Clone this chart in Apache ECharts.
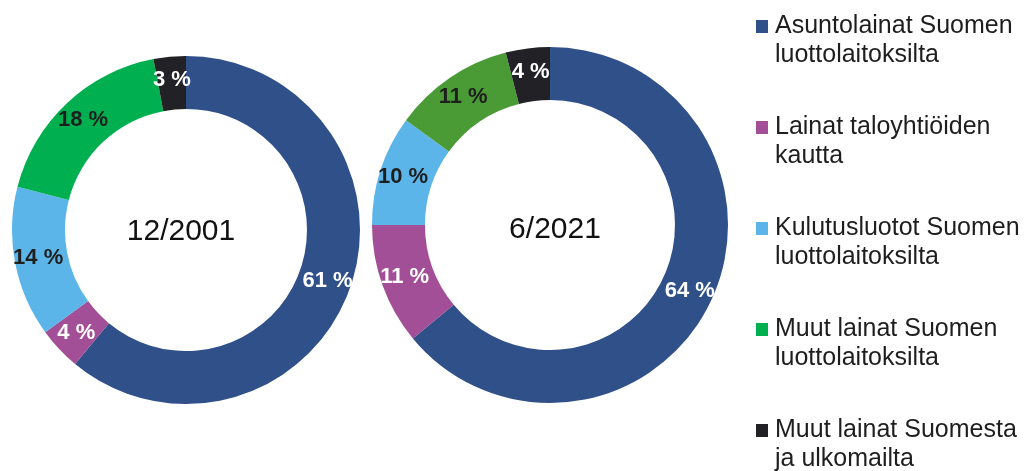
<!DOCTYPE html>
<html>
<head>
<meta charset="utf-8">
<script src="https://cdn.jsdelivr.net/npm/echarts@6/dist/echarts.min.js"></script>
<style>
  html, body { margin: 0; padding: 0; background: #fff; }
  #main { width: 1026px; height: 471px; }
</style>
</head>
<body>
<div id="main"></div>
<script>
  // categories (legend order = slice order, clockwise from 12 o'clock)
  const categories = [
    'Asuntolainat Suomen luottolaitoksilta',
    'Lainat taloyhtiöiden kautta',
    'Kulutusluotot Suomen luottolaitoksilta',
    'Muut lainat Suomen luottolaitoksilta',
    'Muut lainat Suomesta ja ulkomailta',
  ];
  // legend text split on two rows
  const legendLabels = [
    'Asuntolainat Suomen\nluottolaitoksilta',
    'Lainat taloyhtiöiden\nkautta',
    'Kulutusluotot Suomen\nluottolaitoksilta',
    'Muut lainat Suomen\nluottolaitoksilta',
    'Muut lainat Suomesta\nja ulkomailta',
  ];
  const periods = ['12/2001', '6/2021'];
  const values2001 = [61, 4, 14, 18, 3];
  const values2021 = [64, 11, 10, 11, 4];

  const colors2001 = ['#2f5089', '#a34f97', '#5cb5e9', '#00b050', '#222226'];
  const colors2021 = ['#2f5089', '#a34f97', '#5cb5e9', '#4a9b36', '#222226'];
  const labelColors = ['#ffffff', '#ffffff', '#1e1e1e', '#1e1e1e', '#ffffff'];

  const font = '"Liberation Sans", Arial, sans-serif';

  function makeData(values, colors) {
    return values.map((v, i) => {
      return {
        name: categories[i],
        value: v,
        itemStyle: { color: colors[i] },
        label: { color: labelColors[i] },
      };
    });
  }

  function makePie(values, colors, center, radius) {
    return {
      type: 'pie',
      center,
      radius,
      startAngle: 90,
      clockwise: true,
      avoidLabelOverlap: false,
      silent: true,
      label: {
        show: true,
        position: 'inside',
        formatter: '{c} %',
        fontFamily: font,
        fontWeight: 'bold',
        fontSize: 22,
      },
      labelLine: { show: false },
      itemStyle: { borderWidth: 0 },
      data: makeData(values, colors),
    };
  }

  const myChart = echarts.init(document.getElementById('main'));
  const lh = 29;

  myChart.setOption({
    animation: false,
    backgroundColor: '#ffffff',
    legend: {
      orient: 'vertical',
      left: 756,
      top: -17,
      height: 560,
      padding: 0,
      itemWidth: 12,
      itemHeight: 13,
      itemGap: 14,
      icon: 'rect',
      selectedMode: false,
      data: categories,
      // empty first row so the marker lines up with the first text row
      formatter: (name) => '\n' + legendLabels[categories.indexOf(name)],
      textStyle: {
        fontFamily: font,
        fontSize: 25,
        lineHeight: lh,
        color: '#1e1e1e',
        padding: [0, 0, 0, 2],
      },
    },
    graphic: [
      {
        type: 'text',
        x: 181,
        y: 232,
        style: {
          text: periods[0],
          font: '30px ' + font,
          fill: '#111',
          align: 'center',
          verticalAlign: 'middle',
        },
      },
      {
        type: 'text',
        x: 555,
        y: 230,
        style: {
          text: periods[1],
          font: '30px ' + font,
          fill: '#111',
          align: 'center',
          verticalAlign: 'middle',
        },
      },
    ],
    series: [
      makePie(values2001, colors2001, [186, 230], [121, 174]),
      makePie(values2021, colors2021, [550, 225], [125, 178]),
    ],
  });
</script>
</body>
</html>
